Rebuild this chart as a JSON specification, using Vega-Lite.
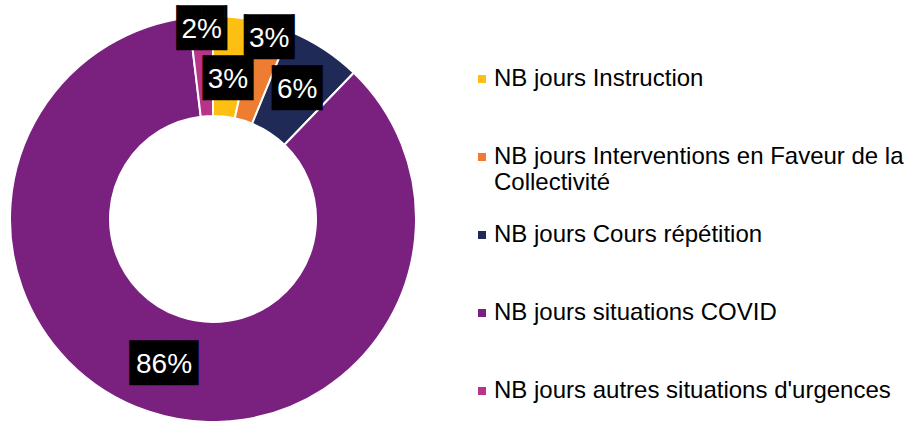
{
  "$schema": "https://vega.github.io/schema/vega-lite/v6.json",
  "width": 406,
  "height": 404,
  "autosize": {"type": "none"},
  "padding": {"left": 10, "top": 17, "right": 492, "bottom": 0},
  "background": "white",
  "data": {"values": [
    {"cat": "NB jours Instruction", "value": 3.4, "label": "3%", "o": 1},
    {"cat": "NB jours Interventions en Faveur de la Collectivité", "value": 2.8, "label": "3%", "o": 2},
    {"cat": "NB jours Cours répétition", "value": 6.0, "label": "6%", "o": 3},
    {"cat": "NB jours situations COVID", "value": 85.9, "label": "86%", "o": 4},
    {"cat": "NB jours autres situations d'urgences", "value": 1.9, "label": "2%", "o": 5}
  ]},
  "encoding": {
    "theta": {"field": "value", "type": "quantitative", "stack": true},
    "order": {"field": "o", "type": "quantitative"}
  },
  "layer": [
    {
      "mark": {"type": "arc", "radius": 203, "radius2": 103, "stroke": "white", "strokeWidth": 2},
      "encoding": {
        "color": {
          "field": "cat", "type": "nominal",
          "scale": {
            "domain": ["NB jours Instruction", "NB jours Interventions en Faveur de la Collectivité", "NB jours Cours répétition", "NB jours situations COVID", "NB jours autres situations d'urgences"],
            "range": ["#FDBF11", "#EE7D31", "#1F2B56", "#7A2180", "#B8338A"]
          },
          "legend": {
            "title": null,
            "orient": "none",
            "legendX": 460,
            "legendY": 50,
            "padding": 0,
            "symbolType": "square",
            "symbolSize": 64,
            "symbolStrokeWidth": 0,
            "labelFont": "Liberation Sans",
            "labelFontSize": 24,
            "labelColor": "#000000",
            "labelLimit": 0,
            "labelOffset": 0,
            "rowPadding": 28,
            "labelExpr": "datum.label == 'NB jours Interventions en Faveur de la Collectivité' ? ['NB jours Interventions en Faveur de la', 'Collectivité'] : [datum.label, '']",
            "encode": {
              "labels": {"update": {"dy": {"value": 13}, "lineHeight": {"value": 26}}}
            }
          }
        }
      }
    },
    {
      "mark": {"type": "text", "radius": 154, "font": "DejaVu Sans Mono", "fontSize": 38, "color": "black", "align": "center", "baseline": "middle"},
      "encoding": {"text": {"condition": [{"test": "datum.o == 4", "value": "███"}, {"test": "datum.o == 3", "value": "▕██▏"}], "value": ""}}
    },
    {
      "mark": {"type": "text", "radius": 154, "font": "Liberation Sans", "fontSize": 28, "color": "white", "align": "center", "baseline": "middle"},
      "encoding": {"text": {"condition": {"test": "datum.o == 3 || datum.o == 4", "field": "label"}, "value": ""}}
    },
    {
      "mark": {"type": "text", "radius": 189, "font": "DejaVu Sans Mono", "fontSize": 38, "color": "black", "align": "center", "baseline": "middle"},
      "encoding": {"text": {"condition": {"test": "datum.o == 2 || datum.o == 5", "value": "▕██▏"}, "value": ""}}
    },
    {
      "mark": {"type": "text", "radius": 189, "font": "Liberation Sans", "fontSize": 28, "color": "white", "align": "center", "baseline": "middle"},
      "encoding": {"text": {"condition": {"test": "datum.o == 2 || datum.o == 5", "field": "label"}, "value": ""}}
    },
    {
      "mark": {"type": "text", "radius": 140, "font": "DejaVu Sans Mono", "fontSize": 38, "color": "black", "align": "center", "baseline": "middle"},
      "encoding": {"text": {"condition": {"test": "datum.o == 1", "value": "▕██▏"}, "value": ""}}
    },
    {
      "mark": {"type": "text", "radius": 140, "font": "Liberation Sans", "fontSize": 28, "color": "white", "align": "center", "baseline": "middle"},
      "encoding": {"text": {"condition": {"test": "datum.o == 1", "field": "label"}, "value": ""}}
    }
  ]
}
